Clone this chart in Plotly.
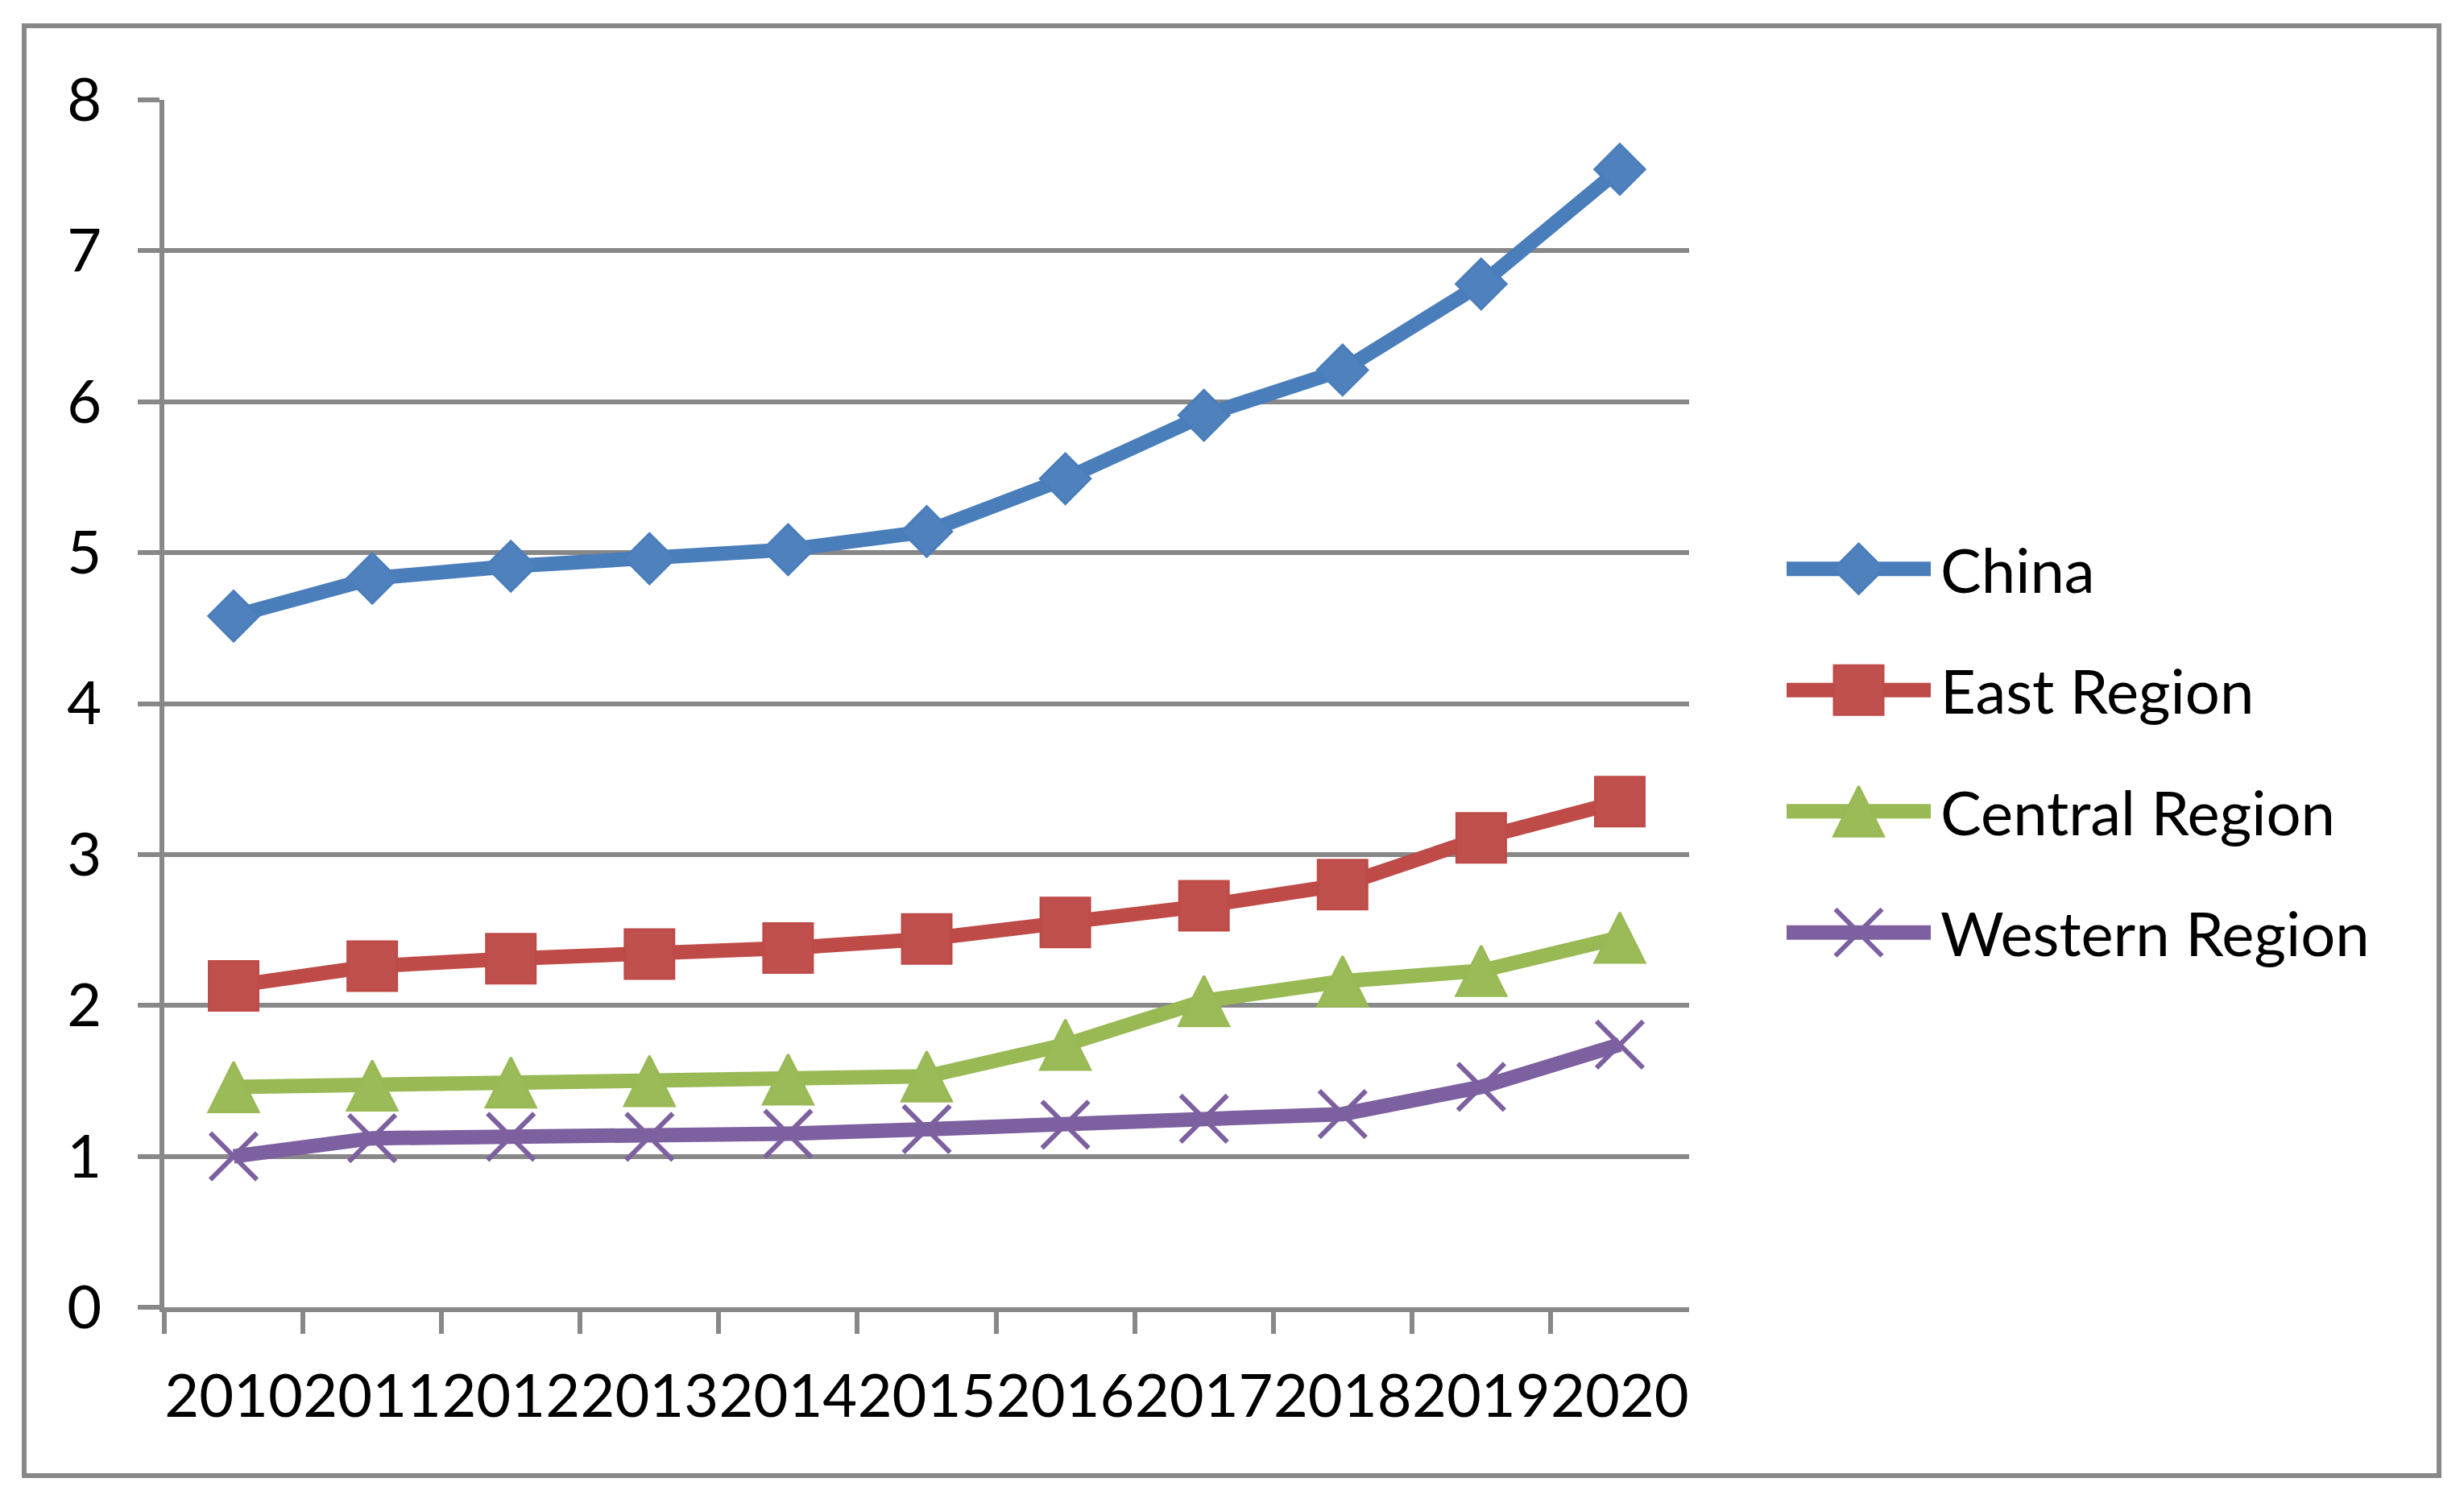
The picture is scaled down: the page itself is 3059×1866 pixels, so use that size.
import plotly.graph_objects as go

# ---- data ----
years = ["2010", "2011", "2012", "2013", "2014", "2015", "2016", "2017", "2018", "2019", "2020"]
china = [4.58, 4.83, 4.91, 4.96, 5.02, 5.14, 5.49, 5.91, 6.21, 6.78, 7.54]
east = [2.13, 2.26, 2.31, 2.34, 2.38, 2.44, 2.55, 2.66, 2.80, 3.11, 3.35]
central = [1.46, 1.47, 1.49, 1.50, 1.51, 1.53, 1.74, 2.03, 2.16, 2.23, 2.45]
western = [1.00, 1.12, 1.13, 1.13, 1.15, 1.18, 1.21, 1.25, 1.28, 1.46, 1.74]
series_names = ["China", "East Region", "Central Region", "Western Region"]
y_ticks = [0, 1, 2, 3, 4, 5, 6, 7, 8]

# ---- style ----
OFF = 8                      # default page margin of the html body
W, H = 3059 - OFF, 1866 - OFF
FONT = "Lato"
FS = 74
FS_LEG = 76
GRID = "#888888"
line_colors = ["#4A7EBB", "#BE4B48", "#98B954", "#7D60A0"]
marker_colors = ["#4F81BD", "#C0504D", "#9BBB59", "#8064A2"]
symbols = ["diamond", "square", "arrow-down", "x-thin"]
sizes = [48, 61, 62, 58]
LW = 18

series = [china, east, central, western]

# pixel layout (window pixels)
px_left, px_right = 204, 2097
px_top, px_bottom = 124, 1623


def fx(p):
    return (p - OFF) / W


def fy(p):
    return 1 - (p - OFF) / H


def marker_for(sym, sz, mc, lc):
    if sym == "x-thin":
        return dict(symbol=sym, size=sz, color=mc, line=dict(color=lc, width=6))
    if sym == "arrow-down":
        # rotated 180 deg -> upward triangle, standoff centres it on the point
        return dict(symbol=sym, size=sz, angle=180, standoff=sz / 2, color=mc,
                    line=dict(color=lc, width=3))
    return dict(symbol=sym, size=sz, color=mc, line=dict(color=lc, width=3))


fig = go.Figure()

for name, vals, lc, mc, sym, sz in zip(series_names, series, line_colors, marker_colors, symbols, sizes):
    fig.add_trace(go.Scatter(
        x=years, y=vals, name=name, mode="lines+markers",
        line=dict(color=lc, width=LW, backoff=0), marker=marker_for(sym, sz, mc, lc),
        xaxis="x", yaxis="y", showlegend=False, cliponaxis=False,
    ))

# ---- custom legend drawn in an auxiliary subplot ----
leg_rows = list(range(len(series_names)))
for k, name, lc, mc, sym, sz in zip(leg_rows, series_names, line_colors, marker_colors, symbols, sizes):
    fig.add_trace(go.Scatter(
        x=[0, 1], y=[k, k], mode="lines", line=dict(color=lc, width=LW),
        xaxis="x2", yaxis="y2", showlegend=False, hoverinfo="skip", cliponaxis=False,
    ))
    fig.add_trace(go.Scatter(
        x=[0.5], y=[k], mode="markers", marker=marker_for(sym, sz, mc, lc),
        xaxis="x2", yaxis="y2", showlegend=False, hoverinfo="skip", cliponaxis=False,
    ))
    fig.add_annotation(
        x=1, y=k, xref="x2", yref="y2", text=name, showarrow=False,
        xanchor="left", yanchor="middle", xshift=10,
        font=dict(family=FONT, size=FS_LEG, color="black"),
    )

fig.update_layout(
    width=W, height=H,
    margin=dict(l=0, r=0, t=0, b=0, pad=0, autoexpand=False),
    paper_bgcolor="white", plot_bgcolor="white",
    font=dict(family=FONT, size=FS, color="black"),
    xaxis=dict(
        domain=[fx(px_left), fx(px_right)],
        type="category", categoryorder="array", categoryarray=years,
        range=[-0.5, len(years) - 0.5],
        tickson="boundaries", ticks="outside", ticklen=27, tickwidth=6, tickcolor=GRID,
        showline=True, linecolor=GRID, linewidth=6,
        showgrid=False, zeroline=False, automargin=False, tickangle=0,
        tickfont=dict(family=FONT, size=FS, color="black"),
        ticklabelstandoff=41,
        anchor="y",
    ),
    yaxis=dict(
        domain=[fy(px_bottom), fy(px_top)],
        range=[0, 8], tickmode="array", tickvals=y_ticks, ticktext=[str(v) for v in y_ticks],
        ticks="outside", ticklen=27, tickwidth=6, tickcolor=GRID,
        showline=True, linecolor=GRID, linewidth=6,
        showgrid=True, gridcolor=GRID, gridwidth=6, zeroline=False, automargin=False,
        tickfont=dict(family=FONT, size=FS, color="black"),
        ticklabelstandoff=30,
        anchor="x",
    ),
    xaxis2=dict(
        domain=[fx(2218), fx(2397)], range=[0, 1], visible=False, fixedrange=True,
        anchor="y2", automargin=False,
    ),
    yaxis2=dict(
        domain=[fy(1233), fy(631)], range=[3.5, -0.5], visible=False, fixedrange=True,
        anchor="x2", automargin=False,
    ),
    shapes=[dict(
        type="rect", xref="paper", yref="paper",
        x0=fx(30), x1=fx(3028), y0=fy(1832), y1=fy(32),
        line=dict(color=GRID, width=6), fillcolor="rgba(0,0,0,0)", layer="below",
    )],
)

fig.write_html("out.html")
